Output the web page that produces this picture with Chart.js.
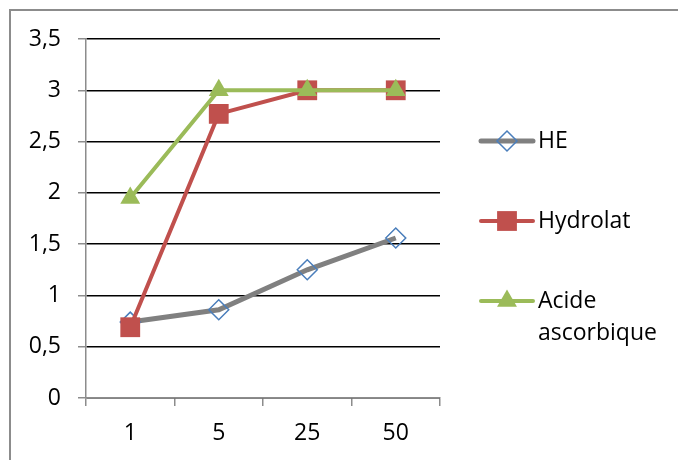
<!DOCTYPE html>
<html>
<head>
<meta charset="utf-8">
<script src="https://cdn.jsdelivr.net/npm/chart.js@4.4.0/dist/chart.umd.min.js"></script>
<style>
  html, body { margin: 0; padding: 0; background: #fff; }
  #wrap { position: relative; width: 678px; height: 460px; overflow: hidden; }
  #frame { position: absolute; left: 9px; top: 9px; width: 700px; height: 480px; border: 2px solid #8c8c8c; box-sizing: border-box; }
  canvas { position: absolute; left: 0; top: 0; }
</style>
</head>
<body>
<div id="wrap">
  <div id="frame"></div>
  <canvas id="myChart" width="678" height="460"></canvas>
</div>
<script>
// données
const categories = ["1", "5", "25", "50"];
const heValues = [0.74, 0.86, 1.25, 1.56];
const hydrolatValues = [0.69, 2.77, 3, 3];
const acideValues = [1.95, 3, 3, 3];
const yTicks = [0, 0.5, 1, 1.5, 2, 2.5, 3, 3.5];

const FONT = "'Open Sans', sans-serif";

// legende dessinee a droite
const sideLegend = {
    id: "sideLegend",
    afterDraw(chart) {
        const ctx = chart.ctx;
        const items = [
            { ds: 0, y: 141, text: ["HE"] },
            { ds: 1, y: 221, text: ["Hydrolat"] },
            { ds: 2, y: 301, text: ["Acide", "ascorbique"] }
        ];
        items.forEach(function (it) {
            const d = chart.data.datasets[it.ds];
            ctx.save();
            ctx.strokeStyle = d.borderColor;
            ctx.lineWidth = d.borderWidth;
            ctx.lineCap = "round";
            ctx.beginPath();
            ctx.moveTo(481, it.y);
            ctx.lineTo(533, it.y);
            ctx.stroke();
            ctx.fillStyle = d.pointBackgroundColor;
            ctx.strokeStyle = d.pointBorderColor;
            ctx.lineWidth = d.pointBorderWidth;
            Chart.helpers.drawPoint(ctx, {
                pointStyle: d.pointStyle,
                radius: d.pointRadius,
                borderWidth: d.pointBorderWidth
            }, 507, it.y);
            ctx.fillStyle = "#000";
            ctx.font = "23px " + FONT;
            ctx.textBaseline = "middle";
            it.text.forEach(function (t, i) {
                ctx.fillText(t, 538, it.y + i * 32);
            });
            ctx.restore();
        });
    }
};

const ctx = document.querySelector("#myChart").getContext("2d");
const myChart = new Chart(ctx, {
    type: "line",
    data: {
        labels: categories,
        datasets: [{
            label: "HE",
            data: heValues,
            borderColor: "#808080",
            borderWidth: 5,
            pointStyle: "rectRot",
            pointRadius: 10,
            pointHoverRadius: 10,
            pointBorderWidth: 1.5,
            pointBorderColor: "#4a7ebb",
            pointBackgroundColor: "transparent",
            order: 3
        }, {
            label: "Hydrolat",
            data: hydrolatValues,
            borderColor: "#c0504d",
            borderWidth: 4,
            pointStyle: "rect",
            pointRadius: 14,
            pointHoverRadius: 14,
            pointBorderWidth: 0,
            pointBorderColor: "#c0504d",
            pointBackgroundColor: "#c0504d",
            order: 2
        }, {
            label: "Acide ascorbique",
            data: acideValues,
            borderColor: "#9bbb59",
            borderWidth: 4,
            pointStyle: "triangle",
            pointRadius: 11.5,
            pointHoverRadius: 11.5,
            pointBorderWidth: 0,
            pointBorderColor: "#9bbb59",
            pointBackgroundColor: "#9bbb59",
            order: 1
        }]
    },
    options: {
        responsive: false,
        animation: false,
        events: [],
        layout: { padding: { left: 0, right: 238, top: 39, bottom: 0 } },
        plugins: {
            legend: { display: false },
            tooltip: { enabled: false }
        },
        scales: {
            x: {
                offset: true,
                grid: {
                    offset: true,
                    drawOnChartArea: false,
                    tickLength: 8,
                    tickColor: "#8c8c8c",
                    lineWidth: 1.5
                },
                border: { color: "#8c8c8c", width: 1.5 },
                ticks: {
                    color: "#000",
                    font: { family: FONT, size: 23 },
                    padding: 14,
                    maxRotation: 0
                },
                afterFit(scale) { scale.height = 62; }
            },
            y: {
                min: 0,
                max: 3.5,
                afterBuildTicks(scale) {
                    scale.ticks = yTicks.map(function (v) { return { value: v }; });
                },
                grid: {
                    color: "#000",
                    lineWidth: 1.5,
                    tickLength: 8,
                    tickColor: "#8c8c8c"
                },
                border: { color: "#8c8c8c", width: 1.5 },
                ticks: {
                    color: "#000",
                    font: { family: FONT, size: 23 },
                    padding: 17,
                    callback: function (v) { return String(v).replace(".", ","); }
                },
                afterFit(scale) { scale.width = 86; }
            }
        }
    },
    plugins: [sideLegend]
});
</script>
</body>
</html>
